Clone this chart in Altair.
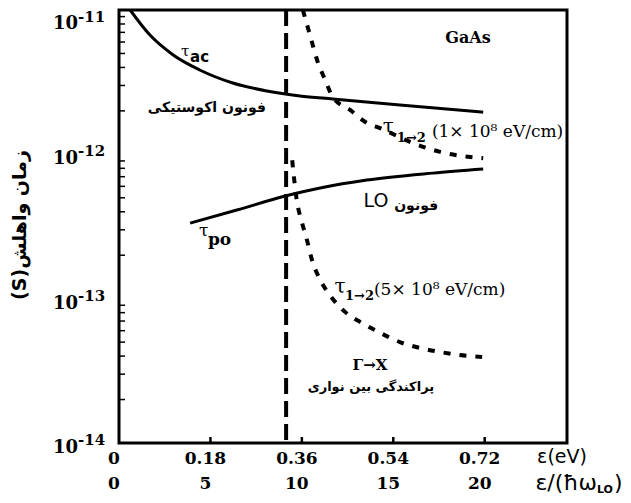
import altair as alt
import pandas as pd

# ---- curve data (energy in eV, time in s) ----
ac_x = [0.022, 0.061, 0.106, 0.159, 0.224, 0.291, 0.356, 0.421, 0.553, 0.717]
ac_y = [1.0e-11, 6.7e-12, 4.9e-12, 3.84e-12, 3.12e-12, 2.75e-12, 2.54e-12, 2.42e-12, 2.20e-12, 1.96e-12]
po_x = [0.140, 0.232, 0.327, 0.396, 0.488, 0.618, 0.717]
po_y = [3.34e-13, 4.11e-13, 5.14e-13, 5.84e-13, 6.63e-13, 7.41e-13, 7.91e-13]
t1_x = [0.362, 0.376, 0.390, 0.406, 0.421, 0.455, 0.488, 0.514, 0.573, 0.632, 0.717]
t1_y = [1.0e-11, 6.7e-12, 4.5e-12, 3.27e-12, 2.49e-12, 2.03e-12, 1.65e-12, 1.52e-12, 1.22e-12, 1.04e-12, 9.4e-13]
t5_x = [0.341, 0.350, 0.360, 0.370, 0.380, 0.396, 0.415, 0.445, 0.478, 0.514, 0.553, 0.593, 0.632, 0.671, 0.715]
t5_y = [9.1e-13, 4.8e-13, 3.4e-13, 2.55e-13, 1.85e-13, 1.35e-13, 1.06e-13, 8.1e-14, 6.8e-14, 5.8e-14, 5.0e-14, 4.55e-14, 4.27e-14, 4.07e-14, 3.94e-14]
threshold_x = [0.329]

# ---- axes ----
x_ticks = [0, 0.18, 0.36, 0.54, 0.72]
x_labels_ev = ["0", "0.18", "0.36", "0.54", "0.72"]
x_labels_lo = ["0", "5", "10", "15", "20"]
y_ticks = [1e-14, 1e-13, 1e-12, 1e-11]
y_exp = ["-14", "-13", "-12", "-11"]
y_minor = [m * 10.0 ** k for k in (-14, -13, -12) for m in range(2, 10)]

# ---- annotations ----
ann_text = ["GaAs", "τ", "ac", "فونون اکوستیکی", "τ", "1→2", "(1× 10⁸ eV/cm)",
            "LO", "فونون", "τ", "po", "τ", "1→2", "(5× 10⁸ eV/cm)",
            "Γ→X", "پراکندگی بین نواری"]
ann_x = [0.687, 0.130, 0.140, 0.173, 0.530, 0.547, 0.616,
         0.506, 0.585, 0.167, 0.175, 0.435, 0.445, 0.502,
         0.494, 0.496]
ann_y = [6.4e-12, 5.2e-12, 4.72e-12, 2.09e-12, 1.55e-12, 1.30e-12, 1.43e-12,
         4.74e-13, 4.38e-13, 2.94e-13, 2.55e-13, 1.20e-13, 1.04e-13, 1.15e-13,
         3.47e-14, 2.44e-14]
ann_size = [16, 15, 15, 14, 20, 13, 17,
            19, 14, 17, 17, 20, 13, 17,
            15, 13]
ann_group = ["serifb_c", "serif_c", "sansb_l", "sansb_c", "serif_c", "serifb_l", "serif_l",
             "sans_c", "sansb_c", "serif_c", "serifb_l", "serif_c", "serifb_l", "serif_l",
             "serifb_c", "sansb_c"]

groups = {
    "serifb_c": dict(font="DejaVu Serif", fontWeight="bold", align="center"),
    "serif_c": dict(font="DejaVu Serif", fontWeight="normal", align="center"),
    "serifb_l": dict(font="DejaVu Serif", fontWeight="bold", align="left"),
    "serif_l": dict(font="DejaVu Serif", fontWeight="normal", align="left"),
    "sansb_c": dict(font="DejaVu Sans", fontWeight="bold", align="center"),
    "sansb_l": dict(font="DejaVu Sans", fontWeight="bold", align="left"),
    "sans_c": dict(font="DejaVu Sans", fontWeight="normal", align="center"),
}

W, H = 448, 433
X = alt.X("x:Q", scale=alt.Scale(domain=[0, 0.882]), axis=None)
Y = alt.Y("y:Q", scale=alt.Scale(type="log", domain=[1e-14, 1e-11]), axis=None)

solid_df = pd.DataFrame({"x": ac_x + po_x, "y": ac_y + po_y,
                         "s": ["ac"] * len(ac_x) + ["po"] * len(po_x)})
dash_df = pd.DataFrame({"x": t1_x + t5_x, "y": t1_y + t5_y,
                        "s": ["t1"] * len(t1_x) + ["t5"] * len(t5_x)})

layers = []
layers.append(alt.Chart(solid_df).mark_line(color="black", strokeWidth=3, interpolate="monotone", clip=True)
              .encode(X, Y, detail="s:N"))
layers.append(alt.Chart(dash_df).mark_line(color="black", strokeWidth=4, strokeDash=[7, 9],
                                           interpolate="monotone", clip=True)
              .encode(X, Y, detail="s:N"))
layers.append(alt.Chart(pd.DataFrame({"x": threshold_x})).mark_rule(color="black", strokeWidth=4, strokeDash=[16, 7])
              .encode(x=X))
# minor ticks on left axis (inward)
layers.append(alt.Chart(pd.DataFrame({"y": y_minor})).mark_rule(color="black", strokeWidth=1.5)
              .encode(y=Y, x=alt.value(0), x2=alt.value(6)))
# bottom ticks (inward)
layers.append(alt.Chart(pd.DataFrame({"x": x_ticks[1:]})).mark_rule(color="black", strokeWidth=2.5)
              .encode(x=X, y=alt.value(H), y2=alt.value(H - 6)))

xl_df = pd.DataFrame({"x": x_ticks, "ev": x_labels_ev, "lo": x_labels_lo})
layers.append(alt.Chart(xl_df).mark_text(font="DejaVu Serif", fontWeight="bold", fontSize=17, dx=-5, color="black")
              .encode(x=X, y=alt.value(H + 16), text="ev:N"))
layers.append(alt.Chart(xl_df).mark_text(font="DejaVu Serif", fontWeight="bold", fontSize=17, dx=-5, color="black")
              .encode(x=X, y=alt.value(H + 41), text="lo:N"))

yl_df = pd.DataFrame({"y": y_ticks, "base": ["10"] * len(y_ticks), "exp": y_exp})
yl_low = yl_df[yl_df["exp"] != "-11"]
yl_top = yl_df[yl_df["exp"] == "-11"]
for dfl, db, de in ((yl_low, 5, -3), (yl_top, 14, 7)):
    layers.append(alt.Chart(dfl).mark_text(font="DejaVu Serif", fontWeight="bold", fontSize=18, align="right",
                                           dy=db, color="black")
                  .encode(y=Y, x=alt.value(-41), text="base:N"))
    layers.append(alt.Chart(dfl).mark_text(font="DejaVu Serif", fontWeight="bold", fontSize=15, align="left",
                                           dy=de, color="black")
                  .encode(y=Y, x=alt.value(-41), text="exp:N"))

ann_df = pd.DataFrame({"x": ann_x, "y": ann_y, "t": ann_text, "size": ann_size, "g": ann_group})
for g, style in groups.items():
    sub = ann_df[ann_df["g"] == g]
    if len(sub) == 0:
        continue
    layers.append(alt.Chart(sub).mark_text(color="black", baseline="middle", **style)
                  .encode(x=X, y=Y, text="t:N", size=alt.Size("size:Q", scale=None, legend=None)))

# texts outside the plot area (axis titles)
def outside(text, px, py, size, align="center", font="DejaVu Sans", weight="normal", angle=0):
    return (alt.Chart(pd.DataFrame({"t": [text]}))
            .mark_text(color="black", font=font, fontWeight=weight, fontSize=size, align=align,
                       baseline="middle", angle=angle)
            .encode(x=alt.value(px), y=alt.value(py), text="t:N"))

layers.append(outside("(S)زمان واهلش", -99, 215, 19, weight="bold", angle=270))
layers.append(outside("ε(eV)", 443, 447, 19))
layers.append(outside("ε/(ħω", 478, 473, 22, align="right"))
layers.append(outside("LO", 478, 480, 11, align="left", weight="bold"))
layers.append(outside(")", 495, 473, 22, align="left"))

chart = (alt.layer(*layers)
         .properties(width=W, height=H, autosize=alt.AutoSizeParams(type="none"),
                     padding={"left": 111, "top": 2, "right": 56, "bottom": 52})
         .configure_view(stroke="black", strokeWidth=3))

chart.save("out.html", embed_options={"renderer": "svg", "actions": False})
